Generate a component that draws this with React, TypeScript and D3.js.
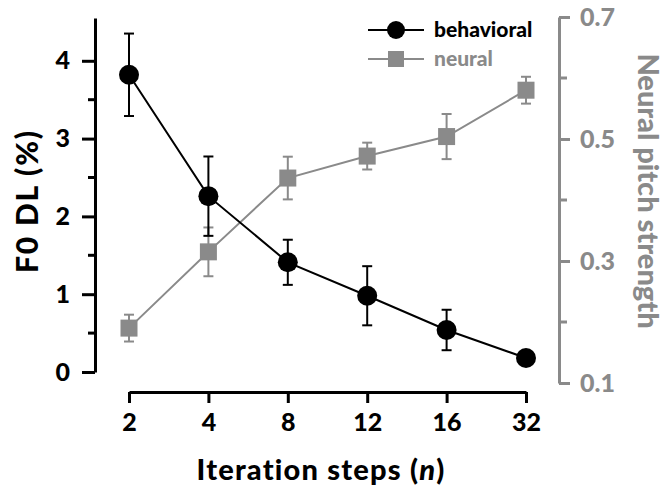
import { useEffect, useRef } from "react";
import * as d3 from "d3";

const steps = ["2", "4", "8", "12", "16", "32"];
const behavioral = [3.82, 2.26, 1.41, 0.98, 0.54, 0.18];
const behavioralErr = [0.53, 0.51, 0.29, 0.38, 0.26, 0];
const neural = [0.19, 0.315, 0.436, 0.472, 0.504, 0.58];
const neuralErr = [0.022, 0.04, 0.035, 0.022, 0.037, 0.022];
const leftTicks = [0, 1, 2, 3, 4];
const leftMinor = [0.5, 1.5, 2.5, 3.5];
const rightTicks = [0.1, 0.3, 0.5, 0.7];
const rightMinor = [0.2, 0.4, 0.6];

const GRAY = "#8a8a8a";
const FONT = "Lato, 'Open Sans', sans-serif";

const App = () => {
    const chartRef = useRef<SVGSVGElement>(null);

    useEffect(() => {
        const svg = d3.select(chartRef.current);
        svg.selectAll("*").remove();

        const width = 672;
        const height = 487;

        const x = d3.scalePoint().domain(steps).range([129, 526]);
        const yL = d3.scaleLinear().domain([0, 4.55]).range([372, 18]);
        const yR = d3.scaleLinear().domain([0.1, 0.7]).range([383, 17]);

        svg.attr("width", width).attr("height", height).attr("viewBox", `0 0 ${width} ${height}`);

        const styleAxis = (g, color, size) => {
            g.selectAll("path").attr("stroke", color).attr("stroke-width", 3);
            g.selectAll("line").attr("stroke", color).attr("stroke-width", 3);
            g.selectAll("text")
                .attr("fill", color)
                .attr("font-family", FONT)
                .attr("font-weight", "900")
                .attr("font-size", size);
        };

        // left axis (behavioral)
        const gL = svg.append("g").attr("transform", "translate(95,0)");
        gL.call(d3.axisLeft(yL).tickValues(leftTicks).tickFormat(d3.format("d")).tickSize(13).tickSizeOuter(0).tickPadding(12));
        gL.selectAll(".minor")
            .data(leftMinor)
            .enter()
            .append("line")
            .attr("class", "minor")
            .attr("x1", -7)
            .attr("x2", 0)
            .attr("y1", (d) => yL(d))
            .attr("y2", (d) => yL(d));
        styleAxis(gL, "#000", 25);

        // right axis (neural)
        const gR = svg.append("g").attr("transform", "translate(559,0)");
        gR.call(d3.axisRight(yR).tickValues(rightTicks).tickFormat(d3.format(".1f")).tickSize(11).tickSizeOuter(0).tickPadding(10));
        gR.selectAll(".minor")
            .data(rightMinor)
            .enter()
            .append("line")
            .attr("class", "minor")
            .attr("x1", 0)
            .attr("x2", 8)
            .attr("y1", (d) => yR(d))
            .attr("y2", (d) => yR(d));
        styleAxis(gR, GRAY, 25);

        // bottom axis
        const gX = svg.append("g").attr("transform", "translate(0,392)");
        gX.call(d3.axisBottom(x).tickSize(11).tickSizeOuter(0).tickPadding(10));
        styleAxis(gX, "#000", 25);

        // axis titles
        svg.append("text")
            .attr("transform", "translate(38,201) rotate(-90)")
            .attr("text-anchor", "middle")
            .attr("font-family", FONT)
            .attr("font-weight", "900")
            .attr("font-size", 30)
            .attr("letter-spacing", 1.8)
            .text("F0 DL (%)");

        svg.append("text")
            .attr("transform", "translate(638,191) rotate(90)")
            .attr("text-anchor", "middle")
            .attr("fill", GRAY)
            .attr("font-family", FONT)
            .attr("font-weight", "900")
            .attr("font-size", 29)
            .text("Neural pitch strength");

        const xt = svg.append("text")
            .attr("x", 321)
            .attr("y", 480)
            .attr("text-anchor", "middle")
            .attr("font-family", FONT)
            .attr("font-weight", "900")
            .attr("font-size", 29)
            .attr("letter-spacing", 1.2);
        xt.append("tspan").text("Iteration steps (");
        xt.append("tspan").attr("font-style", "italic").text("n");
        xt.append("tspan").text(")");

        const neuralData = steps.map((s, i) => ({ s, v: neural[i], e: neuralErr[i] }));
        const behavData = steps.map((s, i) => ({ s, v: behavioral[i], e: behavioralErr[i] }));

        const drawSeries = (data, y, color, shape) => {
            const g = svg.append("g");
            g.append("path")
                .datum(data)
                .attr("fill", "none")
                .attr("stroke", color)
                .attr("stroke-width", 2)
                .attr("d", d3.line().x((d) => x(d.s)).y((d) => y(d.v)));

            const eb = g.selectAll(".err").data(data.filter((d) => d.e > 0)).enter().append("g");
            eb.append("line")
                .attr("x1", (d) => x(d.s)).attr("x2", (d) => x(d.s))
                .attr("y1", (d) => y(d.v - d.e)).attr("y2", (d) => y(d.v + d.e))
                .attr("stroke", color).attr("stroke-width", 2);
            [-1, 1].forEach((sgn) => {
                eb.append("line")
                    .attr("x1", (d) => x(d.s) - 5).attr("x2", (d) => x(d.s) + 5)
                    .attr("y1", (d) => y(d.v + sgn * d.e)).attr("y2", (d) => y(d.v + sgn * d.e))
                    .attr("stroke", color).attr("stroke-width", 2);
            });

            if (shape === "circle") {
                g.selectAll("circle").data(data).enter().append("circle")
                    .attr("cx", (d) => x(d.s)).attr("cy", (d) => y(d.v)).attr("r", 10).attr("fill", color);
            } else {
                g.selectAll("rect").data(data).enter().append("rect")
                    .attr("x", (d) => x(d.s) - 8.5).attr("y", (d) => y(d.v) - 8.5)
                    .attr("width", 17).attr("height", 17).attr("fill", color);
            }
        };

        drawSeries(neuralData, yR, GRAY, "square");
        drawSeries(behavData, yL, "#000", "circle");

        // legend
        const legend = [
            { label: "behavioral", color: "#000", shape: "circle", y: 30 },
            { label: "neural", color: GRAY, shape: "square", y: 59 },
        ];
        const lg = svg.append("g");
        legend.forEach((l) => {
            lg.append("line").attr("x1", 368).attr("x2", 424).attr("y1", l.y).attr("y2", l.y)
                .attr("stroke", l.color).attr("stroke-width", 2);
            if (l.shape === "circle") {
                lg.append("circle").attr("cx", 396).attr("cy", l.y).attr("r", 9).attr("fill", l.color);
            } else {
                lg.append("rect").attr("x", 388).attr("y", l.y - 8).attr("width", 16).attr("height", 16).attr("fill", l.color);
            }
            lg.append("text")
                .attr("x", 434).attr("y", l.y).attr("dy", "0.35em")
                .attr("fill", l.color)
                .attr("font-family", FONT)
                .attr("font-weight", "900")
                .attr("font-size", 21)
                .text(l.label);
        });
    }, []);

    return (
        <svg ref={chartRef} style={{ position: "absolute", left: 0, top: 0 }}></svg>
    );
};

export default App;
